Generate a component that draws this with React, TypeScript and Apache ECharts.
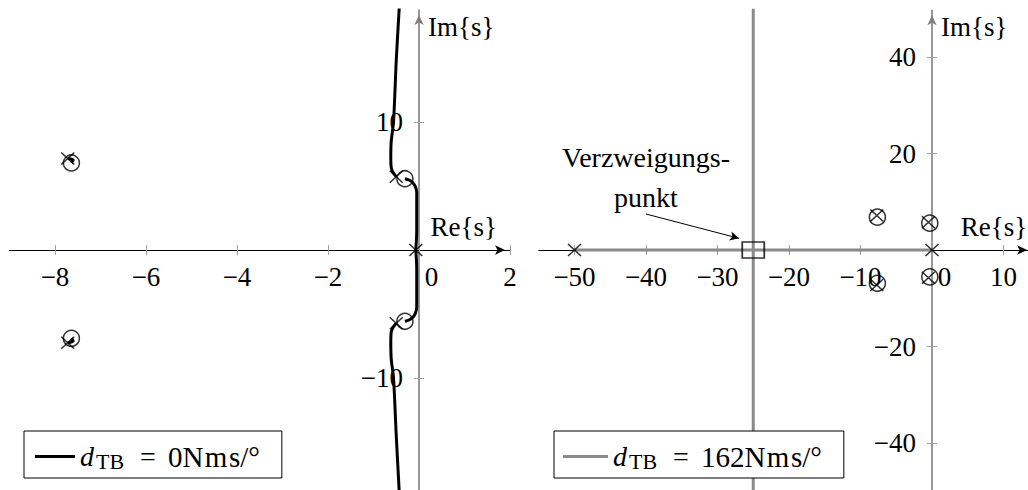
import React, { useEffect, useRef } from "react";
import * as echarts from "echarts";

const FONT = "'Liberation Serif', 'Times New Roman', Times, serif";

// Axis ticks
const RE_TICKS_D0 = [-8, -6, -4, -2, 0, 2];
const IM_TICKS_D0 = [-10, 10];
const RE_TICKS_D162 = [-50, -40, -30, -20, -10, 0, 10];
const IM_TICKS_D162 = [-40, -20, 20, 40];

// Legend entries
const NAME_D0 = "d_TB = 0Nms/°";
const NAME_D162 = "d_TB = 162Nms/°";

// Open-loop zeros (same for both damping values)
const zeros: number[][] = [
  [-7.64, 6.8],
  [-7.64, -6.9],
  [-0.31, 5.57],
  [-0.31, -5.57],
];

// Open-loop poles, d_TB = 0
const polesD0: number[][] = [
  [-7.72, 7.15],
  [-7.72, -7.25],
  [-0.5, 5.73],
  [-0.5, -5.73],
  [-0.07, 0],
];

// Open-loop poles, d_TB = 162
const polesD162: number[][] = [
  [-50, 0],
  [0, 0],
  [-7.72, 7.15],
  [-7.72, -7.25],
  [-0.5, 5.73],
  [-0.5, -5.73],
];

// Root-locus branches, d_TB = 0
const locusD0FarUpper: number[][] = [[-7.72, 7.15], [-7.6, 7.04], [-7.64, 6.8]];
const locusD0FarLower: number[][] = [[-7.72, -7.25], [-7.6, -7.1], [-7.64, -6.9]];
const locusD0OriginUp: number[][] = [
  [-0.07, 0], [-0.05, 1.5], [-0.05, 3], [-0.05, 4.5], [-0.08, 4.95],
  [-0.14, 5.28], [-0.22, 5.47], [-0.31, 5.57],
];
const locusD0OriginDown: number[][] = [
  [-0.07, 0], [-0.05, -1.5], [-0.05, -3], [-0.05, -4.5], [-0.08, -4.95],
  [-0.14, -5.28], [-0.22, -5.47], [-0.31, -5.57],
];
const locusD0PoleUp: number[][] = [
  [-0.5, 5.73], [-0.57, 6.05], [-0.61, 6.45], [-0.62, 7.2], [-0.61, 8.5],
  [-0.56, 10], [-0.5, 14.8], [-0.43, 19.2],
];
const locusD0PoleDown: number[][] = [
  [-0.5, -5.73], [-0.57, -6.05], [-0.61, -6.4], [-0.62, -7.2], [-0.61, -8.5],
  [-0.56, -10], [-0.5, -14.5], [-0.43, -19.2],
];

// Root-locus branches, d_TB = 162
const branchPoint: number[][] = [[-25, 0]];
const locusD162Real: number[][] = [[-50, 0], [-25, 0], [0, 0]];
const locusD162Up: number[][] = [[-25, 0], [-25, 60]];
const locusD162Down: number[][] = [[-25, 0], [-25, -60]];

const CROSS = "path://M0,0L13,12M13,0L0,12";

type Rect = { left: number; top: number; width: number; height: number };
type Range = { min: number; max: number };

// Plot areas and value ranges of the two diagrams
const GRID_D0: Rect = { left: 9.5, top: 10, width: 500.5, height: 483.2 };
const RE_D0: Range = { min: -9, max: 2 };
const IM_D0: Range = { min: -19, max: 18.75 };
const GRID_D162: Rect = { left: 538.75, top: 10.2, width: 493.35, height: 481.05 };
const RE_D162: Range = { min: -55, max: 14 };
const IM_D162: Range = { min: -50, max: 49.7 };

function tickText(v: number): string {
  if (v === 0) return "{z|0}";
  return v < 0 ? "\u2212" + Math.abs(v) : String(v);
}

const labelRich = {
  z: { fontFamily: FONT, fontSize: 27, color: "#000", padding: [0, 0, 0, 25] },
};

const tickLine = { color: "#a0a0a0", width: 1 };

// Axes crossing at the origin: one axis carries line, labels and outer ticks,
// a twin axis adds the tick halves on the other side.
function axesFor(grid: number, g: Rect, re: Range, im: Range, reTicks: number[], imTicks: number[], reNameGap: number) {
  const zeroX = g.left + (g.width * (0 - re.min)) / (re.max - re.min);
  const zeroY = g.top + (g.height * im.max) / (im.max - im.min);
  const xs = [
    {
      type: "value", gridIndex: grid, min: re.min, max: re.max, position: "bottom",
      offset: zeroY - (g.top + g.height),
      axisLine: {
        show: true, onZero: false, symbol: ["none", "arrow"], symbolSize: [7, 10],
        symbolOffset: [0, -5], lineStyle: { color: "#000", width: 1 },
      },
      axisTick: { show: true, length: 5, customValues: reTicks, lineStyle: tickLine },
      axisLabel: {
        show: true, customValues: reTicks, formatter: tickText, margin: 13,
        fontFamily: FONT, fontSize: 27, color: "#000", rich: labelRich,
      },
      splitLine: { show: false },
      name: "Re{s}", nameLocation: "end", nameGap: reNameGap, nameMoveOverlap: false,
      nameTextStyle: {
        fontFamily: FONT, fontSize: 27, color: "#000", align: "right",
        verticalAlign: "bottom", padding: [0, 0, 10, 0],
      },
    },
    {
      type: "value", gridIndex: grid, min: re.min, max: re.max, position: "top",
      offset: g.top - zeroY,
      axisLine: { show: false, onZero: false },
      axisTick: { show: true, length: 5, customValues: reTicks, lineStyle: tickLine },
      axisLabel: { show: false },
      splitLine: { show: false },
    },
  ];
  const ys = [
    {
      type: "value", gridIndex: grid, min: im.min, max: im.max, position: "left",
      offset: g.left - zeroX,
      axisLine: {
        show: true, onZero: false, symbol: ["none", "arrow"], symbolSize: [7, 10],
        symbolOffset: [0, -5], lineStyle: { color: "#7f7f7f", width: 1.6 },
      },
      axisTick: { show: true, length: 5, customValues: imTicks, lineStyle: tickLine },
      axisLabel: {
        show: true, customValues: imTicks, formatter: tickText, margin: 16,
        fontFamily: FONT, fontSize: 27, color: "#000", rich: labelRich,
      },
      splitLine: { show: false },
      name: "Im{s}", nameLocation: "end", nameGap: -3, nameMoveOverlap: false,
      nameTextStyle: {
        fontFamily: FONT, fontSize: 27, color: "#000", align: "left",
        verticalAlign: "top", padding: [0, 0, 0, 9],
      },
    },
    {
      type: "value", gridIndex: grid, min: im.min, max: im.max, position: "right",
      offset: zeroX - (g.left + g.width),
      axisLine: { show: false, onZero: false },
      axisTick: { show: true, length: 5, customValues: imTicks, lineStyle: tickLine },
      axisLabel: { show: false },
      splitLine: { show: false },
    },
  ];
  return { xs, ys };
}

function locusLine(name: string, data: number[][], grid: number, color: string) {
  return {
    type: "line", name, data, xAxisIndex: grid * 2, yAxisIndex: grid * 2,
    symbol: "none", smooth: 0.3, silent: true, z: 3,
    lineStyle: { color, width: 3 },
    itemStyle: { color },
  };
}

function markers(name: string, data: number[][], grid: number, kind: "pole" | "zero" | "branch") {
  const shape = kind === "pole" ? CROSS : kind === "zero" ? "circle" : "rect";
  const size = kind === "pole" ? [13, 12] : kind === "zero" ? 16 : [22, 16];
  return {
    type: "scatter", name, data, xAxisIndex: grid * 2, yAxisIndex: grid * 2,
    symbol: shape, symbolSize: size, silent: true, z: 5,
    itemStyle: { color: "rgba(0,0,0,0)", borderColor: "#000", borderWidth: 1.5 },
  };
}

const legendRich = {
  d: { fontFamily: FONT, fontSize: 28, fontStyle: "italic", lineHeight: 31, color: "#000" },
  s: { fontFamily: FONT, fontSize: 22, lineHeight: 17, verticalAlign: "bottom", padding: [0, 0, 0, 2], color: "#000" },
  e: { fontFamily: FONT, fontSize: 28, lineHeight: 31, padding: [0, 12, 0, 16], color: "#000" },
  u: { fontFamily: FONT, fontSize: 29, lineHeight: 31, color: "#000" },
  m: { fontFamily: FONT, fontSize: 29, lineHeight: 31, padding: [0, 1.5, 0, 1.5], color: "#000" },
};

function legendText(name: string): string {
  const value = name === NAME_D0 ? "0" : "162";
  return "{d|d}{s|TB}{e|=}{u|" + value + "N}{m|m}{u|s/°}";
}

function legendFor(name: string, left: number, iconWidth: number, padLeft: number) {
  return {
    data: [name], left, top: 431, orient: "horizontal",
    icon: "rect", itemWidth: iconWidth, itemHeight: 3, selectedMode: false,
    padding: [10, 22, 6, padLeft], borderColor: "#000", borderWidth: 1,
    backgroundColor: "#fff", borderRadius: 0,
    formatter: legendText,
    textStyle: { fontFamily: FONT, fontSize: 28, color: "#000", lineHeight: 31, rich: legendRich },
  };
}

export default function App() {
  const ref = useRef<HTMLDivElement>(null);

  useEffect(() => {
    if (!ref.current) return;
    const chart = echarts.init(ref.current, null, { renderer: "svg" });
    const black = "#000";
    const gray = "#8a8a8a";

    const left = axesFor(0, GRID_D0, RE_D0, IM_D0, RE_TICKS_D0, IM_TICKS_D0, -13);
    const right = axesFor(1, GRID_D162, RE_D162, IM_D162, RE_TICKS_D162, IM_TICKS_D162, -5);

    const option: any = {
      animation: false,
      backgroundColor: "#fff",
      grid: [
        { ...GRID_D0, containLabel: false, outerBoundsMode: "none" },
        { ...GRID_D162, containLabel: false, outerBoundsMode: "none" },
      ],
      xAxis: [...left.xs, ...right.xs],
      yAxis: [...left.ys, ...right.ys],
      legend: [legendFor(NAME_D0, 24, 40, 11), legendFor(NAME_D162, 554, 45, 9)],
      series: [
        locusLine(NAME_D0, locusD0OriginUp, 0, black),
        locusLine(NAME_D0, locusD0OriginDown, 0, black),
        locusLine(NAME_D0, locusD0PoleUp, 0, black),
        locusLine(NAME_D0, locusD0PoleDown, 0, black),
        locusLine(NAME_D0, locusD0FarUpper, 0, black),
        locusLine(NAME_D0, locusD0FarLower, 0, black),
        markers("Pole d0", polesD0, 0, "pole"),
        markers("Nullstelle d0", zeros, 0, "zero"),

        locusLine(NAME_D162, locusD162Real, 1, gray),
        locusLine(NAME_D162, locusD162Up, 1, gray),
        locusLine(NAME_D162, locusD162Down, 1, gray),
        markers("Pole d162", polesD162, 1, "pole"),
        markers("Nullstelle d162", zeros, 1, "zero"),
        {
          ...markers("Verzweigungspunkt", branchPoint, 1, "branch"),
          markPoint: {
            silent: true,
            symbol: "rect",
            symbolSize: 1,
            itemStyle: { color: "rgba(0,0,0,0)" },
            label: {
              show: true, position: "inside", formatter: "Verzweigungs-\npunkt",
              fontFamily: FONT, fontSize: 28, lineHeight: 40, color: "#000",
            },
            data: [{ coord: [-40, 15.1] }],
          },
          markLine: {
            silent: true,
            symbol: ["none", "arrow"],
            symbolSize: [7, 9],
            label: { show: false },
            lineStyle: { color: "#000", width: 1, type: "solid" },
            data: [[{ coord: [-40, 7.46] }, { coord: [-27.0, 2.42] }]],
          },
        },
      ],
    };

    chart.setOption(option);
    return () => chart.dispose();
  }, []);

  return (
    <div
      ref={ref}
      style={{ position: "absolute", left: 0, top: 0, width: 1028, height: 490, background: "#fff" }}
    />
  );
}
